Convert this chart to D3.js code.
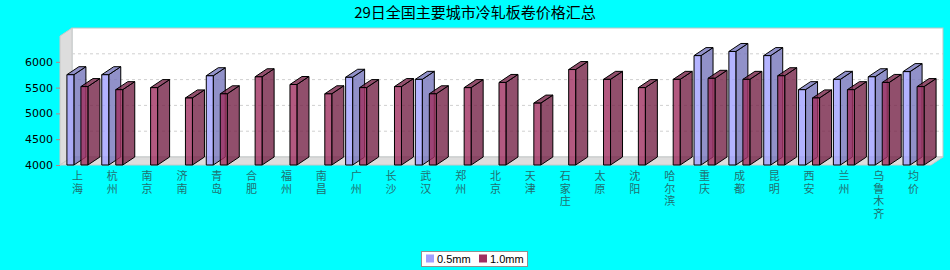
<!DOCTYPE html>
<html>
<head>
<meta charset="utf-8">
<script src="https://cdn.jsdelivr.net/npm/d3@7"></script>
<style>
  body { margin: 0; background: #00ffff; }
  svg { display: block; }
</style>
</head>
<body>
<div id="chart"></div>
<script>
// Data
var cities = ["上海", "杭州", "南京", "济南", "青岛", "合肥", "福州", "南昌", "广州", "长沙",
    "武汉", "郑州", "北京", "天津", "石家庄", "太原", "沈阳", "哈尔滨", "重庆", "成都",
    "昆明", "西安", "兰州", "乌鲁木齐", "均价"];
var seriesNames = ["0.5mm", "1.0mm"];
var thin = [5750, 5750, null, null, 5730, null, null, null, 5700, null,
    5660, null, null, null, null, null, null, null, 6120, 6200,
    6120, 5460, 5660, 5710, 5810];
var thick = [5520, 5460, 5500, 5300, 5380, 5710, 5560, 5380, 5500, 5520,
    5380, 5500, 5600, 5200, 5850, 5660, 5500, 5660, 5680, 5660,
    5730, 5300, 5460, 5600, 5520];
var yTicks = [4000, 4500, 5000, 5500, 6000];
var colors = ["#a0a0ff", "#a03060"];

var width = 950, height = 270;
var dx = 12, dy = -8;          // depth of the 3d effect
var plotL = 60, plotR = 931, plotT = 36, plotB = 165;

var svg = d3.select("#chart").append("svg")
    .attr("width", width)
    .attr("height", height);

svg.append("rect").attr("width", width).attr("height", height).attr("fill", "#00ffff");

// Title
svg.append("text")
    .attr("x", width / 2)
    .attr("y", 18)
    .attr("text-anchor", "middle")
    .attr("font-family", "'Noto Sans CJK SC', sans-serif")
    .attr("font-size", 15)
    .attr("fill", "#000")
    .text("29日全国主要城市冷轧板卷价格汇总");

var x = d3.scaleBand().domain(cities).range([plotL, plotR]);
var y = d3.scaleLinear().domain([4000, 6500]).range([plotB, plotT]);

// Walls
svg.append("rect")
    .attr("x", plotL + dx).attr("y", plotT + dy)
    .attr("width", plotR - plotL).attr("height", plotB - plotT)
    .attr("fill", "#fff").attr("stroke", "#b8c8c8");

svg.append("polygon")
    .attr("points", [[plotL, plotT], [plotL + dx, plotT + dy], [plotL + dx, plotB + dy], [plotL, plotB]].join(" "))
    .attr("fill", "#dddddd").attr("stroke", "#c8c8c8");

svg.append("polygon")
    .attr("points", [[plotL, plotB], [plotL + dx, plotB + dy], [plotR + dx, plotB + dy], [plotR, plotB]].join(" "))
    .attr("fill", "#dddddd").attr("stroke", "#c8c8c8");

// Gridlines on back wall
svg.append("g").selectAll("line")
    .data(yTicks.slice(1))
    .enter().append("line")
    .attr("x1", plotL + dx).attr("x2", plotR + dx)
    .attr("y1", d => y(d) + dy).attr("y2", d => y(d) + dy)
    .attr("stroke", "#d0d0d0")
    .attr("stroke-dasharray", "3,3");

// Y axis
var yAxis = svg.append("g")
    .attr("transform", "translate(" + plotL + ",0)")
    .call(d3.axisLeft(y).tickValues(yTicks).tickSize(4).tickPadding(3).tickFormat(d3.format("d")));
yAxis.select(".domain").remove();
yAxis.selectAll(".tick line").attr("stroke", "#c08080");
yAxis.selectAll(".tick text")
    .attr("font-family", "'DejaVu Sans', sans-serif")
    .attr("font-size", 11)
    .attr("fill", "#000");

// Bars
var barW = 7, gap = 14;
var bars = [];
cities.forEach(function (c, i) {
    [thin[i], thick[i]].forEach(function (v, s) {
        if (v != null) bars.push({ city: c, value: v, s: s });
    });
});

var g = svg.append("g");
bars.forEach(function (d) {
    var cx = x(d.city) + x.bandwidth() / 2;
    var x0 = cx - 10.5 + d.s * gap;
    var x1 = x0 + barW;
    var yv = y(d.value);
    var base = d3.color(colors[d.s]);
    var dark = base.darker(0.85);
    var b = g.append("g").attr("stroke", "#000").attr("stroke-width", 1).attr("stroke-linejoin", "round");
    b.append("polygon")
        .attr("points", [[x1, yv], [x1 + dx, yv + dy], [x1 + dx, plotB + dy], [x1, plotB]].join(" "))
        .attr("fill", dark).attr("fill-opacity", 0.8);
    b.append("polygon")
        .attr("points", [[x0, yv], [x0 + dx, yv + dy], [x1 + dx, yv + dy], [x1, yv]].join(" "))
        .attr("fill", dark).attr("fill-opacity", 0.8);
    b.append("rect")
        .attr("x", x0).attr("y", yv)
        .attr("width", barW).attr("height", plotB - yv)
        .attr("fill", base).attr("fill-opacity", 0.8);
});

// Category labels, stacked one character per line
var labels = svg.append("g");
cities.forEach(function (c) {
    var t = labels.append("text")
        .attr("x", x(c) + x.bandwidth() / 2)
        .attr("y", 180)
        .attr("text-anchor", "middle")
        .attr("font-family", "'Noto Sans CJK SC', sans-serif")
        .attr("font-size", 11)
        .attr("fill", "#207070");
    c.split("").forEach(function (ch, k) {
        t.append("tspan")
            .attr("x", x(c) + x.bandwidth() / 2)
            .attr("y", 180 + k * 12.7)
            .text(ch);
    });
});

// Legend
var legend = svg.append("g").attr("transform", "translate(421.5,251.5)");
legend.append("rect")
    .attr("width", 106).attr("height", 15)
    .attr("fill", "#fff").attr("stroke", "#909090");
var lx = [4.5, 57.5];
seriesNames.forEach(function (n, i) {
    legend.append("rect")
        .attr("x", lx[i]).attr("y", 3)
        .attr("width", 8).attr("height", 8)
        .attr("fill", colors[i]);
    legend.append("text")
        .attr("x", lx[i] + 11).attr("y", 11.5)
        .attr("font-family", "'Liberation Sans', Arial, sans-serif")
        .attr("font-size", 11)
        .attr("fill", "#000")
        .text(n);
});
</script>
</body>
</html>
